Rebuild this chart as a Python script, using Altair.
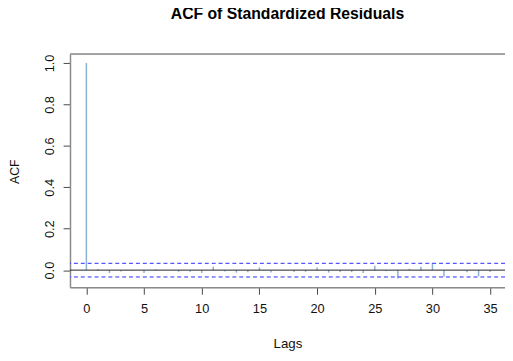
import altair as alt
import pandas as pd

lags = list(range(0, 36))
acf_values = [1.0,
              0.006, -0.014, -0.006, -0.002, -0.014, 0.004, -0.001, -0.008, -0.008, -0.014,
              0.017, -0.006, -0.012, -0.010, 0.013, -0.012, -0.002, -0.009, -0.008, 0.013,
              -0.012, -0.009, -0.010, -0.014, 0.021, -0.005, -0.040, 0.006, 0.016, 0.034,
              -0.032, 0.001, -0.010, -0.030, -0.009]
ci_bounds = [0.033, -0.033]
x_ticks = [0, 5, 10, 15, 20, 25, 30, 35]
y_ticks = [0.0, 0.2, 0.4, 0.6, 0.8, 1.0]

FONT = "Liberation Sans"
W, H = 442, 237

df = pd.DataFrame({"lag": lags, "acf": acf_values, "zero": [0.0] * len(lags)})
ci_df = pd.DataFrame({"ci": ci_bounds})
zero_df = pd.DataFrame({"z": [0.0]})

xscale = alt.Scale(domain=[-1.42, 36.29], nice=False, zero=False)
yscale = alt.Scale(domain=[-0.083, 1.043], nice=False, zero=False)

xaxis = alt.Axis(values=x_ticks, title="Lags", grid=False, domainColor="#8a8a8a", domainWidth=1.5,
                 tickColor="#444444", tickSize=7, labelFontSize=13, labelFont=FONT, labelColor="#111111",
                 labelPadding=9, labelFlush=False, titleFont=FONT, titleFontSize=13.5, titleFontWeight="normal",
                 titleColor="#111111", titleY=61, titleBaseline="alphabetic")
yaxis = alt.Axis(values=y_ticks, format=".1f", title="ACF", grid=False, domainColor="#8a8a8a", domainWidth=1.5,
                 tickColor="#444444", tickSize=7, labelFontSize=13, labelFont=FONT, labelColor="#111111",
                 labelAngle=270, labelAlign="center", labelBaseline="alphabetic", labelPadding=10,
                 labelFlush=False, titleFont=FONT, titleFontSize=12.5, titleFontWeight="normal",
                 titleColor="#111111", titleAngle=270, titleX=-52, titleY=119, titleBaseline="alphabetic")

bars = alt.Chart(df).mark_rule(color="#8AB0D4", strokeWidth=1.5).encode(
    x=alt.X("lag:Q", scale=xscale, axis=xaxis),
    y=alt.Y("acf:Q", scale=yscale, axis=yaxis),
    y2="zero:Q",
)

zero_line = alt.Chart(zero_df).mark_rule(color="#222222", strokeWidth=1).encode(
    y=alt.Y("z:Q", scale=yscale)
)

ci_lines = alt.Chart(ci_df).mark_rule(color="#2a2aff", strokeWidth=1, strokeDash=[4, 3]).encode(
    y=alt.Y("ci:Q", scale=yscale)
)

top_border = alt.Chart(zero_df).mark_rule(color="#8a8a8a", strokeWidth=1.5).encode(
    x=alt.value(0), x2=alt.value(W), y=alt.value(0)
)

chart = alt.layer(bars, zero_line, ci_lines, top_border).properties(
    width=W, height=H,
    title=alt.TitleParams("ACF of Standardized Residuals", font=FONT, fontSize=16, fontWeight="bold",
                          anchor="middle", frame="group", baseline="alphabetic", offset=19, color="#000000"),
    autosize=alt.AutoSizeParams(type="none"),
    padding={"left": 63, "top": 44, "right": 0, "bottom": 70},
).configure_view(strokeWidth=0).configure(background="white")

chart.save("out.html", embed_options={"renderer": "svg", "actions": False})
